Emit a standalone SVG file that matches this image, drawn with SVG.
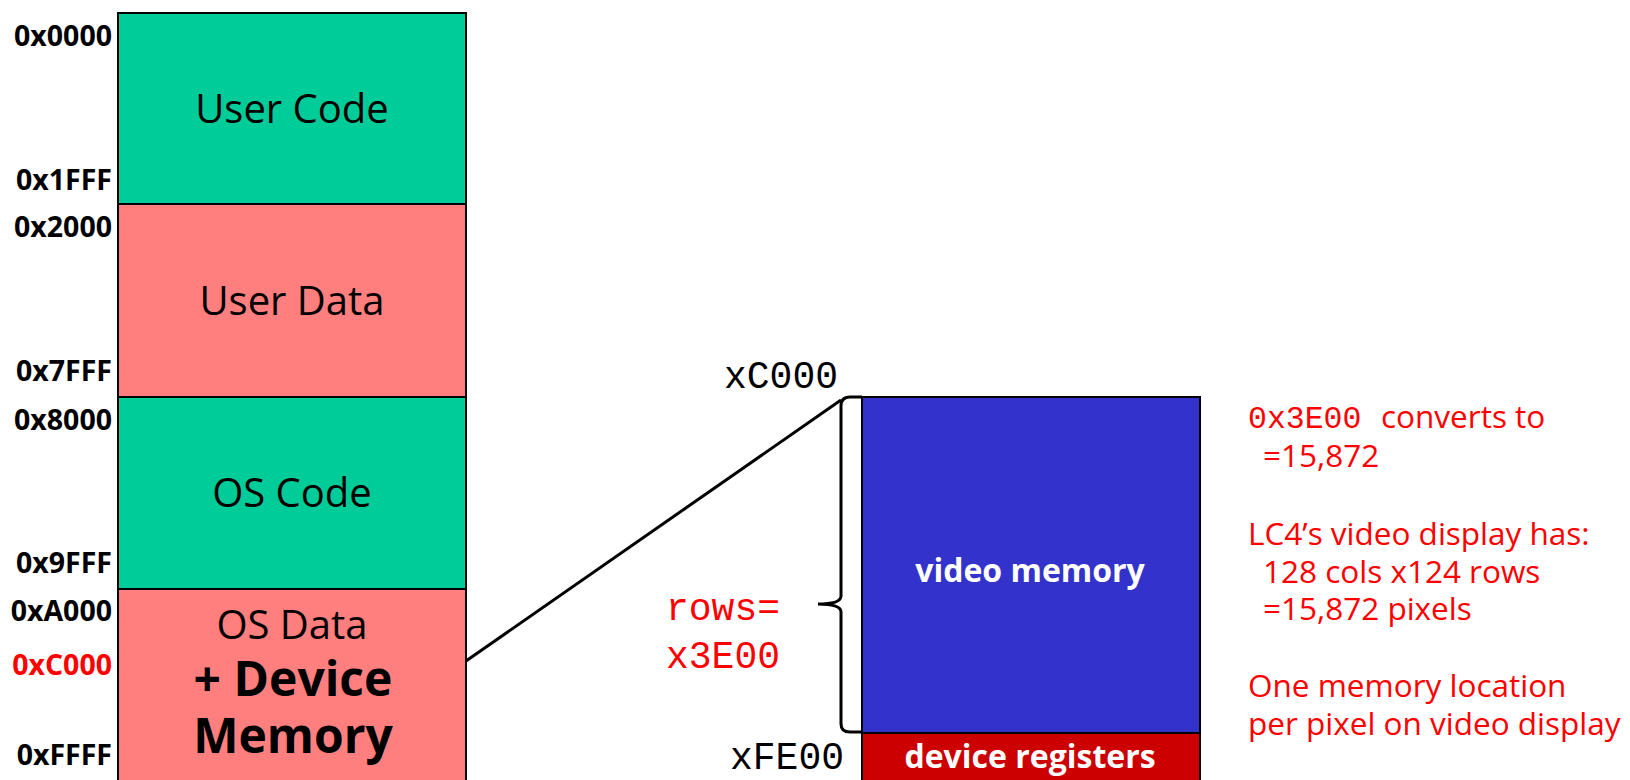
<svg xmlns="http://www.w3.org/2000/svg" width="1630" height="780" viewBox="0 0 1630 780">
<style>
.addr{font-family:"Open Sans","Liberation Sans",sans-serif;font-weight:bold;font-size:28.5px;text-anchor:end;fill:#000}
.big{font-family:"Open Sans","Liberation Sans",sans-serif;font-size:40px;text-anchor:middle;fill:#000}
.mono{font-family:"Liberation Mono","Courier New",monospace;font-size:38px}
.note{font-family:"Open Sans","Liberation Sans",sans-serif;font-size:31.5px;fill:#ff0000}
.wb{font-family:"Open Sans","Liberation Sans",sans-serif;font-weight:bold;font-size:32px;text-anchor:middle;fill:#fff}
.blk{stroke:#000;stroke-width:2}
</style>
<rect width="1630" height="780" fill="#fff"/>
<g id="user-code">
<rect class="blk" x="118" y="13" width="348" height="191" fill="#00cc99"/>
<text class="big" x="292" y="123">User Code</text>
</g>
<g id="user-data">
<rect class="blk" x="118" y="204" width="348" height="193" fill="#ff7f7f"/>
<text class="big" x="292" y="315">User Data</text>
</g>
<g id="os-code">
<rect class="blk" x="118" y="397" width="348" height="192" fill="#00cc99"/>
<text class="big" x="292" y="507">OS Code</text>
</g>
<g id="os-data">
<rect class="blk" x="118" y="589" width="348" height="200" fill="#ff7f7f"/>
<text class="big" x="292" y="639">OS Data</text>
<text class="big" x="293" y="696" style="font-weight:bold;font-size:48px">+ Device</text>
<text class="big" x="293" y="753" style="font-weight:bold;font-size:48px">Memory</text>
</g>
<g id="addresses">
<text class="addr" x="112" y="46">0x0000</text>
<text class="addr" x="112" y="190">0x1FFF</text>
<text class="addr" x="112" y="237">0x2000</text>
<text class="addr" x="112" y="381">0x7FFF</text>
<text class="addr" x="112" y="430">0x8000</text>
<text class="addr" x="112" y="573">0x9FFF</text>
<text class="addr" x="112" y="621">0xA000</text>
<text class="addr" x="112" y="675" style="fill:#ff0000">0xC000</text>
<text class="addr" x="112" y="765">0xFFFF</text>
</g>
<g id="video-memory">
<rect class="blk" x="862" y="397" width="338" height="336" fill="#3333cc"/>
<text class="wb" x="1030" y="582">video memory</text>
</g>
<g id="device-registers">
<rect class="blk" x="862" y="733" width="338" height="57" fill="#cc0000"/>
<text class="wb" x="1030" y="768">device registers</text>
</g>
<g id="connectors" fill="none" stroke="#000" stroke-width="3">
<line x1="466" y1="661" x2="841" y2="400"/>
<path d="M862 397 L850 397 Q841 397 841 406 L841 596 Q841 604 818 604 Q841 604 841 612 L841 724 Q841 732 850 732 L862 732"/>
</g>
<g id="labels">
<text class="mono" x="838" y="388" text-anchor="end" fill="#000">xC000</text>
<text class="mono" x="844" y="769" text-anchor="end" fill="#000">xFE00</text>
<text class="mono" x="666" y="620" fill="#ff0000">rows=</text>
<text class="mono" x="666" y="668" fill="#ff0000">x3E00</text>
</g>
<g id="notes">
<text class="note" x="1248" y="428"><tspan style="font-family:'Liberation Mono','Courier New',monospace">0x3E00</tspan><tspan x="1381">converts to</tspan></text>
<text class="note" x="1263" y="467">=15,872</text>
<text class="note" x="1248" y="545">LC4’s video display has:</text>
<text class="note" x="1263" y="583">128 cols x124 rows</text>
<text class="note" x="1263" y="620">=15,872 pixels</text>
<text class="note" x="1248" y="697">One memory location</text>
<text class="note" x="1248" y="735">per pixel on video display</text>
</g>
</svg>
